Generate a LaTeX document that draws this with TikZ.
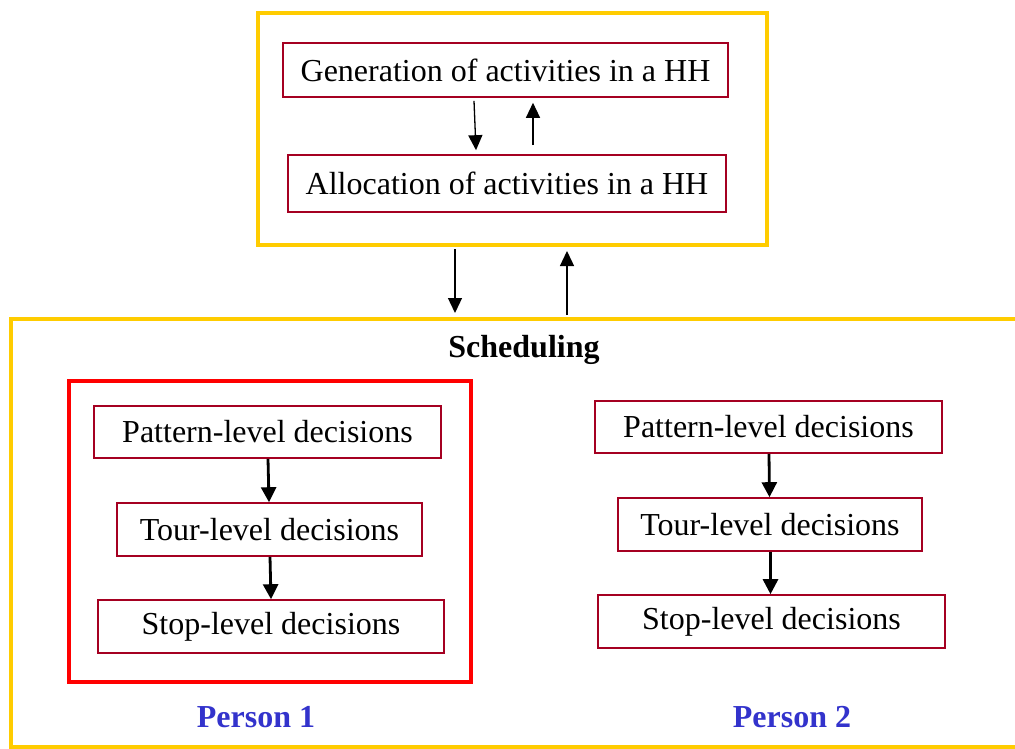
\documentclass[tikz,border=0pt]{standalone}
\usepackage{fontspec}
\setmainfont{Liberation Serif}
\usetikzlibrary{arrows.meta}
\definecolor{hhyellow}{RGB}{255,204,0}
\definecolor{boxred}{RGB}{165,0,33}
\definecolor{personblue}{RGB}{51,51,204}
\tikzset{
  lbl/.style={font=\fontsize{32}{35}\selectfont},
  decbox/.style={draw=boxred, line width=1.6pt, rectangle, inner sep=0pt, lbl},
  ybox/.style={draw=hhyellow, line width=4pt, rectangle, inner sep=0pt},
  rbox/.style={draw=red, line width=4.5pt, rectangle, inner sep=0pt},
  thinarrow/.style={line width=1.3pt, -{Triangle[length=15pt,width=14pt]}},
  thickarrow/.style={line width=2.8pt, -{Triangle[length=15pt,width=15pt]}},
  person/.style={font=\fontsize{32}{35}\selectfont\bfseries, text=personblue},
}
\begin{document}
\begin{tikzpicture}[x=1pt, y=-1pt]
\useasboundingbox (0,0) rectangle (1015,749);
\begin{scope}
\clip (0,0) rectangle (1015,749);

% household level
\node[ybox, minimum width=509pt, minimum height=232pt] (hh) at (512.5,129) {};
\node[decbox, minimum width=445pt, minimum height=54pt] (gen) at (505.5,70) {Generation of activities in a HH};
\node[decbox, minimum width=438pt, minimum height=57pt] (alloc) at (507,183.5) {Allocation of activities in a HH};
\draw[thinarrow] ([xshift=-31.5pt,yshift=-3pt]gen.south) -- ([xshift=-31pt,yshift=4pt]alloc.north);
\draw[thinarrow] ([xshift=26pt,yshift=9pt]alloc.north) -- ([xshift=27.5pt,yshift=-5pt]gen.south);

% scheduling frame
\node[ybox, minimum width=1007pt, minimum height=428pt] (sched) at (514.5,533) {};
\node[font=\fontsize{32}{35}\selectfont\bfseries] (schedlbl) at (524,350) {Scheduling};
\draw[thinarrow] ([xshift=-57.5pt,yshift=-2pt]hh.south) -- ([xshift=-59.5pt,yshift=4pt]sched.north);
\draw[thinarrow] ([xshift=52.5pt,yshift=2pt]sched.north) -- ([xshift=54.5pt,yshift=-4pt]hh.south);

% person 1
\node[rbox, minimum width=402pt, minimum height=301pt] (p1frame) at (270,531.5) {};
\node[decbox, minimum width=347pt, minimum height=52pt] (pat1) at (267.5,432) {Pattern-level decisions};
\node[decbox, minimum width=305pt, minimum height=53pt] (tour1) at (269.5,529.5) {Tour-level decisions};
\node[decbox, minimum width=346pt, minimum height=53pt] (stop1) at (271,626.5) {Stop-level decisions};
\draw[thickarrow] ([xshift=0.5pt]pat1.south) -- ([xshift=-0.5pt]tour1.north);
\draw[thickarrow] ([xshift=0.5pt]tour1.south) -- ([xshift=0pt]stop1.north);
\node[person] (p1lbl) at (256,717) {Person 1};

% person 2
\node[decbox, minimum width=347pt, minimum height=52pt] (pat2) at (768.5,427) {Pattern-level decisions};
\node[decbox, minimum width=304pt, minimum height=53pt] (tour2) at (770,524.5) {Tour-level decisions};
\node[decbox, minimum width=347pt, minimum height=53pt] (stop2) at (771.5,621.5) {Stop-level decisions};
\draw[thickarrow] ([xshift=0.5pt]pat2.south) -- ([xshift=-0.5pt]tour2.north);
\draw[thickarrow] ([xshift=0.5pt]tour2.south) -- ([xshift=-1pt]stop2.north);
\node[person] (p2lbl) at (792,717) {Person 2};
\end{scope}
\end{tikzpicture}
\end{document}
